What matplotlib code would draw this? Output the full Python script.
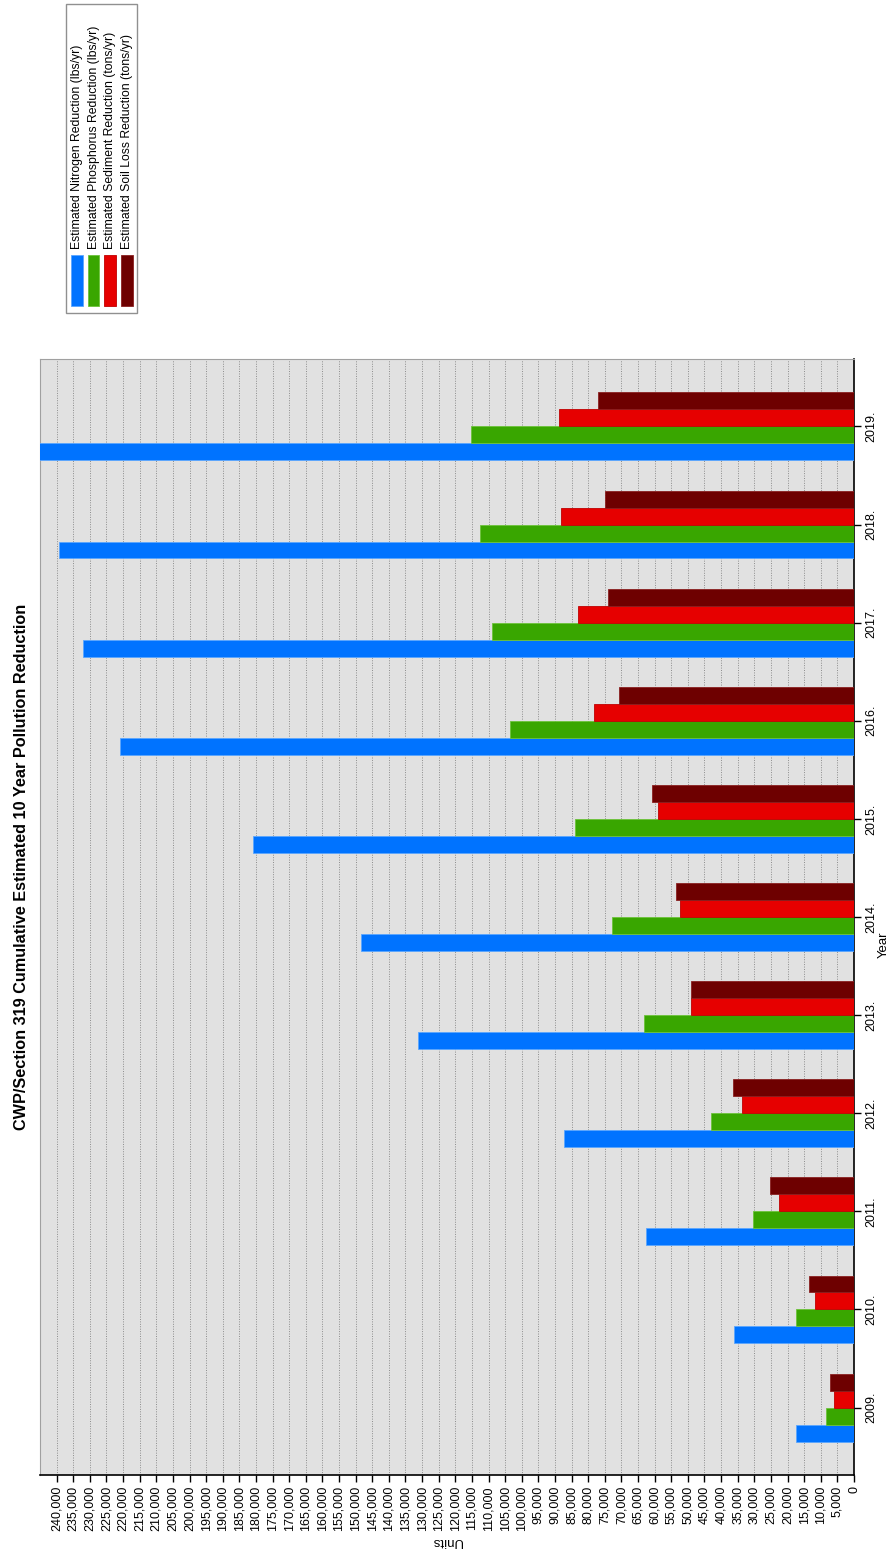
import matplotlib
matplotlib.use('Agg')
import matplotlib.pyplot as plt
from matplotlib.patches import Rectangle
import numpy as np

plt.rcParams['font.family'] = ['Liberation Sans', 'DejaVu Sans']

years = [2009, 2010, 2011, 2012, 2013, 2014, 2015, 2016, 2017, 2018, 2019]
nitrogen = [17500, 36000, 62500, 87400, 131300, 148400, 180800, 221000, 232200, 239400, 250000]
phosphorus = [8500, 17500, 30400, 42900, 63100, 72800, 83900, 103500, 109100, 112700, 115400]
sediment = [5900, 11700, 22500, 33700, 49000, 52300, 59000, 78400, 83100, 88100, 88900]
soil_loss = [7100, 13600, 25400, 36500, 49000, 53700, 60700, 70600, 73900, 75000, 77200]

series_names = ['Estimated Nitrogen Reduction (lbs/yr)',
                'Estimated Phosphorus Reduction (lbs/yr)',
                'Estimated Sediment Reduction (tons/yr)',
                'Estimated Soil Loss Reduction (tons/yr)']
colors = ['#0073ff', '#39a600', '#e60000', '#6e0000']
edges = ['#5aa6ff', '#6cc23a', '#c00000', '#8a2020']

W, H = 896, 1551
fig = plt.figure(figsize=(W / 100, H / 100), dpi=100)


def fx(x):
    return x / W


def fy(y):
    return 1 - y / H


# chart is drawn turned on its side: years run up the right edge,
# values grow to the left
ax = fig.add_axes([fx(40), fy(1475), fx(854) - fx(40), fy(359) - fy(1475)])
ax.set_facecolor('#e1e1e1')

w = 0.173
y = np.array(years, dtype=float)
all_series = [nitrogen, phosphorus, sediment, soil_loss]
for i, vals in enumerate(all_series):
    ax.barh(y + (i - 1.5) * w, vals, height=w, color=colors[i],
            edgecolor=edges[i], linewidth=0.6, zorder=3)

ax.set_xlim(245000, 0)
ax.set_ylim(years[0] - 0.687, years[-1] + 0.687)

xt = list(range(0, 240001, 5000))
ax.set_xticks(xt)
ax.set_xticklabels(['{:,}'.format(v) for v in xt], rotation=90, va='top',
                   fontsize=9)
for v in xt[1:]:
    ax.axvline(v, color='#8c8c8c', linewidth=0.7, linestyle=(0, (1, 1.5)),
               zorder=1)

ax.yaxis.tick_right()
ax.set_yticks(years)
ax.set_yticklabels([str(v) + '.' for v in years], rotation=90, va='center',
                   fontsize=9)
ax.tick_params(axis='both', length=5, width=1, color='black', pad=3)

for side in ['left', 'top']:
    ax.spines[side].set_color('#a0a0a0')
for side in ['right', 'bottom']:
    ax.spines[side].set_color('black')
    ax.spines[side].set_linewidth(1.2)

fig.text(fx(22), fy(867), 'CWP/Section 319 Cumulative Estimated 10 Year Pollution Reduction',
         rotation=90, ha='center', va='center', fontsize=11.7, fontweight='bold')
fig.text(fx(447), fy(1541), 'Units', rotation=180, ha='center', va='center',
         fontsize=9.5)
fig.text(fx(884), fy(945), 'Year', rotation=90, ha='center', va='center',
         fontsize=9.5)

# legend box, rotated with the rest of the chart
fig.patches.append(Rectangle((fx(66), fy(313)), fx(137) - fx(66), fy(4) - fy(313),
                             transform=fig.transFigure, facecolor='white',
                             edgecolor='#909090', linewidth=1))
for i, name in enumerate(series_names):
    x0 = 71 + i * 16.7
    fig.patches.append(Rectangle((fx(x0), fy(306)), fx(11.5), fy(255) - fy(306),
                                 transform=fig.transFigure, facecolor=colors[i],
                                 edgecolor=edges[i], linewidth=0.6))
    fig.text(fx(x0 + 5.8), fy(249), name, rotation=90, ha='center', va='bottom',
             fontsize=8.8)

fig.savefig('out.png', dpi=100)
